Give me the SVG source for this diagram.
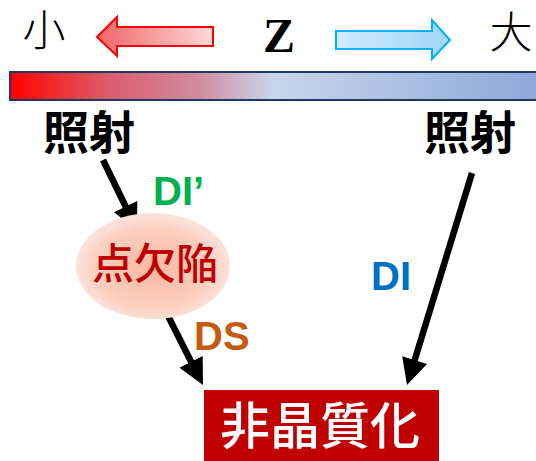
<svg xmlns="http://www.w3.org/2000/svg" width="536" height="461" viewBox="0 0 536 461">
<style>
.cjk{font-family:"Noto Sans CJK JP","Noto Sans CJK SC",sans-serif}
.lat{font-family:"Liberation Sans",Arial,sans-serif;font-weight:bold;font-size:40px}
.conn line{stroke:#000;stroke-width:6.5}
.conn polygon{fill:#000}
</style>
<defs>
<linearGradient id="bar" gradientUnits="userSpaceOnUse" x1="10" y1="0" x2="536" y2="0">
<stop offset="0" stop-color="#ff0000"/>
<stop offset="0.08" stop-color="#f02a2a"/>
<stop offset="0.18" stop-color="#dc5a6a"/>
<stop offset="0.36" stop-color="#d08ca0"/>
<stop offset="0.5" stop-color="#c8d6ec"/>
<stop offset="1" stop-color="#8ea8d8"/>
</linearGradient>
<linearGradient id="redArrow" x1="0" y1="0" x2="1" y2="0">
<stop offset="0" stop-color="#f06666"/>
<stop offset="1" stop-color="#ffd8d8"/>
</linearGradient>
<linearGradient id="blueArrow" x1="0" y1="0" x2="1" y2="0">
<stop offset="0" stop-color="#cfeafc"/>
<stop offset="1" stop-color="#9fd6f8"/>
</linearGradient>
<radialGradient id="ell" cx="0.5" cy="0.52" r="0.5">
<stop offset="0" stop-color="#f9b8a0"/>
<stop offset="0.75" stop-color="#fbcfc0"/>
<stop offset="1" stop-color="#fde2da"/>
</radialGradient>
</defs>
<rect width="536" height="461" fill="#fff"/>

<g id="scale">
<text class="cjk" x="44" y="46" font-size="43" text-anchor="middle" fill="#000" font-weight="300">小</text>
<polygon points="97,37 117,17 117,27 213,27 213,46 117,46 117,56" fill="url(#redArrow)" stroke="#ff0000" stroke-width="2"/>
<text x="279" y="52" font-family="Liberation Serif,'Times New Roman',serif" font-weight="bold" font-size="48" text-anchor="middle" fill="#000">Z</text>
<polygon points="336,31 432,31 432,20 450,40 432,59 432,49 336,49" fill="url(#blueArrow)" stroke="#00b0f0" stroke-width="2"/>
<text class="cjk" x="511" y="48" font-size="43" text-anchor="middle" fill="#000" font-weight="300">大</text>
<rect x="10" y="72" width="530" height="28" fill="url(#bar)" stroke="#1f3864" stroke-width="2"/>
</g>

<g class="conn" id="connectors">
<line x1="103" y1="160" x2="128.3" y2="212"/>
<polygon points="137,230 113.9,212.3 137.3,200.9"/>
<line x1="160" y1="300" x2="193.9" y2="367.2"/>
<polygon points="203,385 179.5,367.8 202.7,356"/>
<line x1="472" y1="173" x2="412.9" y2="365.9"/>
<polygon points="407,385 402.2,356.3 427,363.9"/>
</g>

<g id="irr-left">
<text class="cjk" x="89" y="149" font-size="46" font-weight="bold" text-anchor="middle" fill="#000">照射</text>
</g>
<g id="irr-right">
<text class="cjk" x="470" y="149" font-size="46" font-weight="bold" text-anchor="middle" fill="#000">照射</text>
</g>

<g id="defect">
<ellipse cx="153" cy="266" rx="77" ry="53" fill="url(#ell)"/>
<text class="cjk" x="155" y="279" font-size="42" font-weight="500" text-anchor="middle" fill="#c00000">点欠陥</text>
</g>

<g id="amorph">
<rect x="204" y="390" width="235" height="71" fill="#c00000"/>
<text class="cjk" x="320" y="444" font-size="50" font-weight="500" text-anchor="middle" fill="#fff">非晶質化</text>
</g>

<g id="labels">
<text class="lat" x="153" y="205" fill="#00b050">DI’</text>
<text class="lat" x="371" y="290" fill="#0070c0">DI</text>
<text class="lat" x="194" y="350" fill="#c55a11">DS</text>
</g>
</svg>
